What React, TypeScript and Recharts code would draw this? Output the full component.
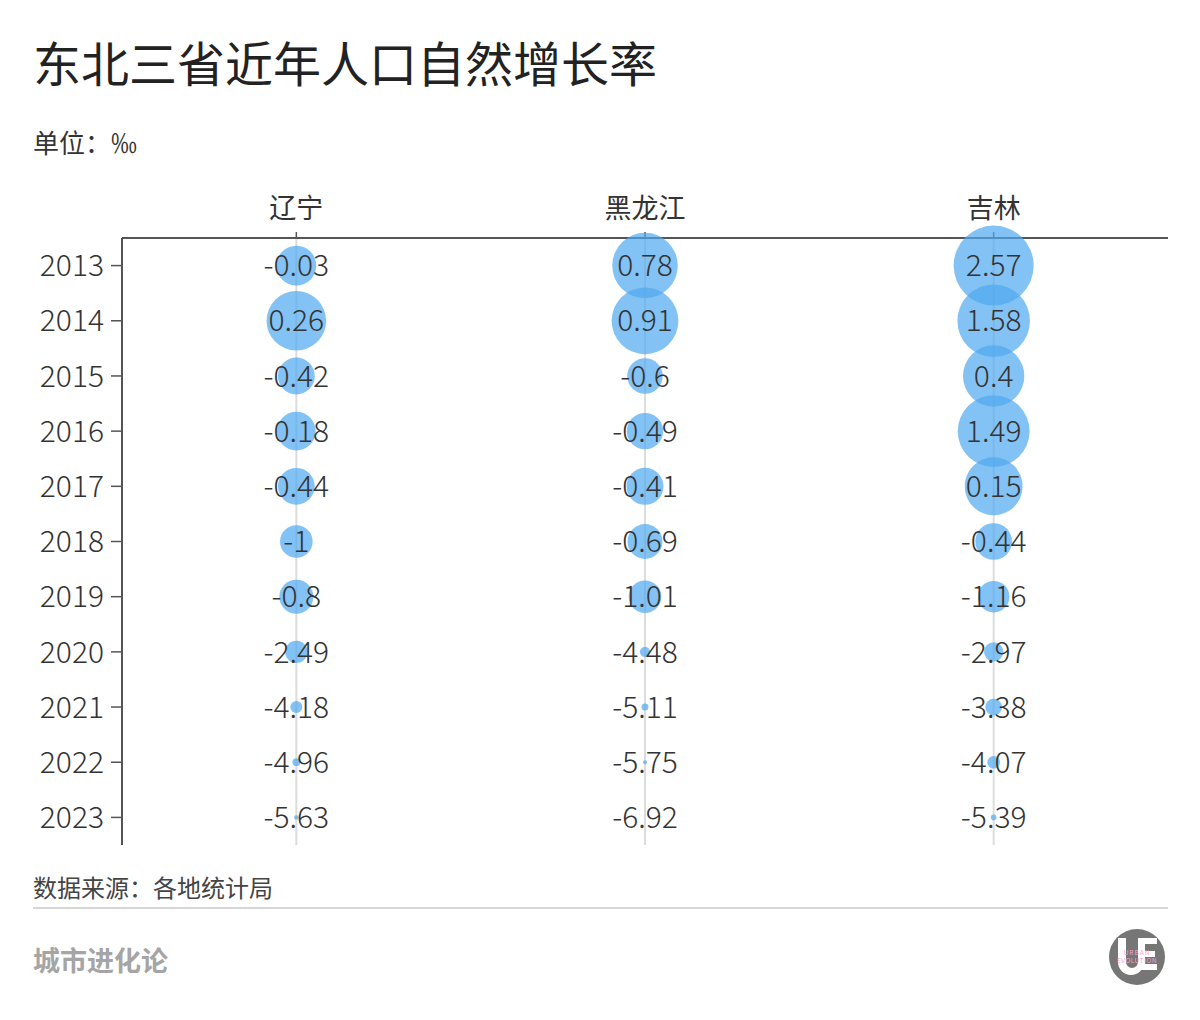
import React from 'react';
import { ScatterChart, Scatter, XAxis, YAxis, ZAxis, CartesianGrid, LabelList } from 'recharts';

const provinces = ['辽宁', '黑龙江', '吉林'];
const years = ['2013', '2014', '2015', '2016', '2017', '2018', '2019', '2020', '2021', '2022', '2023'];
const liaoning = [-0.03, 0.26, -0.42, -0.18, -0.44, -1, -0.8, -2.49, -4.18, -4.96, -5.63];
const heilongjiang = [0.78, 0.91, -0.6, -0.49, -0.41, -0.69, -1.01, -4.48, -5.11, -5.75, -6.92];
const jilin = [2.57, 1.58, 0.4, 1.49, 0.15, -0.44, -1.16, -2.97, -3.38, -4.07, -5.39];

const seriesByProvince = [liaoning, heilongjiang, jilin];

const points = provinces.flatMap((prov, pi) =>
  years.map((year, yi) => ({ prov, year, value: seriesByProvince[pi][yi] }))
);

// Size scale (area output) with a break at zero: negative values grow as a power
// from the domain minimum, positive values grow from a larger base size.
function makeSizeScale(): any {
  let dom: number[] = [0, 1];
  let rng: number[] = [0, 1];
  const s: any = (v: number) => {
    const lo = Math.min(dom[0], -1e-9);
    const hi = Math.max(dom[dom.length - 1], 1e-9);
    const maxD = 2 * Math.sqrt(Math.max(rng[rng.length - 1], 0) / Math.PI);
    let frac: number;
    if (v < 0) {
      const x = Math.max(0, (v - lo) / (0 - lo));
      frac = 0.5 * Math.pow(x, 1.3);
    } else {
      frac = 0.68 + 0.32 * Math.pow(Math.min(1, v / hi), 0.7);
    }
    const d = maxD * frac;
    return Math.PI * (d / 2) * (d / 2);
  };
  s.domain = (d?: number[]) => {
    if (d === undefined) return dom.slice();
    dom = d.map(Number);
    return s;
  };
  s.range = (r?: number[]) => {
    if (r === undefined) return rng.slice();
    rng = r.map(Number);
    return s;
  };
  s.copy = () => makeSizeScale().domain(dom).range(rng);
  s.ticks = () => [];
  s.tickFormat = () => (v: any) => String(v);
  s.nice = () => s;
  s.clamp = () => s;
  return s;
}

const FONT = "'Noto Sans CJK SC', 'Noto Sans', sans-serif";

function Logo() {
  return (
    <svg width={58} height={58} viewBox="0 0 58 58" style={{ position: 'absolute', left: 1108, top: 928 }}>
      <circle cx={29} cy={29} r={28} fill="#767676" />
      <path d="M10 10 h8 v24 a6 6 0 0 0 12 0 v-24 h6 v24 a12 12 0 0 1 -26 0 z" fill="#fff" />
      <path d="M31 10 h18 v6 h-12 v7 h10 v6 h-10 v7 h12 v6 h-18 z" fill="#fff" />
      <text x={29} y={27} textAnchor="middle" fontSize={6.5} fill="#f2a6c6" letterSpacing={1}>URBAN</text>
      <text x={29} y={35} textAnchor="middle" fontSize={6.5} fill="#f2a6c6" letterSpacing={0.5}>EVOLUTION</text>
    </svg>
  );
}

export default function App() {
  return (
    <div
      style={{
        position: 'absolute',
        left: 0,
        top: 0,
        width: 1200,
        height: 1020,
        background: '#fff',
        fontFamily: FONT,
        overflow: 'hidden',
      }}
    >
      <div style={{ position: 'absolute', left: 33, top: 30, fontSize: 48, fontWeight: 400, color: '#222', lineHeight: '62px', whiteSpace: 'nowrap' }}>
        东北三省近年人口自然增长率
      </div>
      <div style={{ position: 'absolute', left: 33, top: 124, fontSize: 26, color: '#333', lineHeight: '36px' }}>
        单位：‰
      </div>

      <div style={{ position: 'absolute', left: 0, top: 0 }}>
        <ScatterChart width={1200} height={1020} margin={{ top: 180, right: 32, bottom: 175, left: 0 }}>
          <CartesianGrid vertical={true} horizontal={false} syncWithTicks stroke="#dcdcdc" strokeWidth={2} />
          <XAxis
            type="category"
            dataKey="prov"
            orientation="top"
            allowDuplicatedCategory={false}
            height={58}
            tickSize={6}
            tickMargin={14}
            axisLine={{ stroke: '#555', strokeWidth: 2 }}
            tickLine={{ stroke: '#555', strokeWidth: 1.5 }}
            tick={{ fill: '#333', fontSize: 27 }}
          />
          <YAxis
            type="category"
            dataKey="year"
            reversed
            allowDuplicatedCategory={false}
            width={122}
            tickSize={11}
            tickMargin={7}
            axisLine={{ stroke: '#555', strokeWidth: 2 }}
            tickLine={{ stroke: '#555', strokeWidth: 1.5 }}
            tick={{ fill: '#333', fontSize: 30, fontWeight: 300 }}
          />
          <ZAxis type="number" dataKey="value" domain={['dataMin', 'dataMax']} range={[0, Math.PI * 40 * 40]} scale={makeSizeScale()} />
          <Scatter data={points} fill="#4FA8F0" fillOpacity={0.7} isAnimationActive={false}>
            <LabelList dataKey="value" position="center" fill="#333" fontSize={30} fontWeight={300} />
          </Scatter>
        </ScatterChart>
      </div>

      <div style={{ position: 'absolute', left: 33, top: 870, fontSize: 24, color: '#444', lineHeight: '34px' }}>
        数据来源：各地统计局
      </div>
      <div style={{ position: 'absolute', left: 33, top: 907, width: 1135, height: 2, background: '#d6d6d6' }} />
      <div style={{ position: 'absolute', left: 33, top: 941, fontSize: 27, color: '#a5a5a5', fontWeight: 700, lineHeight: '38px' }}>
        城市进化论
      </div>
      <Logo />
    </div>
  );
}
